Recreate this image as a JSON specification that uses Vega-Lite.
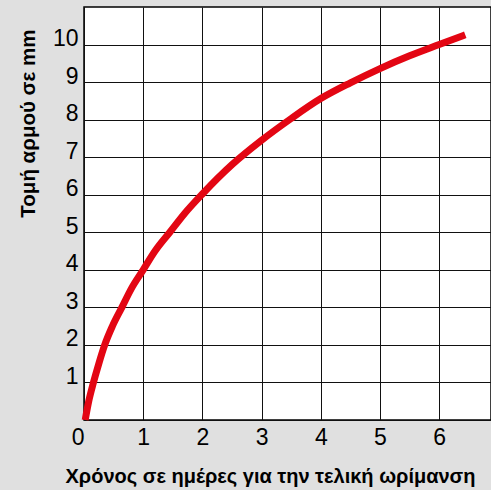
{
  "$schema": "https://vega.github.io/schema/vega-lite/v6.json",
  "autosize": {"type": "none"},
  "width": 407,
  "height": 413,
  "padding": {"left": 84, "top": 7, "right": 0, "bottom": 70},
  "background": "#e0e0e0",
  "config": {
    "view": {"fill": "white", "stroke": "black", "strokeWidth": 1.5},
    "axis": {
      "grid": true,
      "gridColor": "#111111",
      "gridWidth": 1,
      "gridOpacity": 1,
      "ticks": false,
      "domain": false,
      "labelFont": "Liberation Sans",
      "labelColor": "black",
      "titleFont": "Liberation Sans",
      "titleFontWeight": "bold",
      "titleColor": "black"
    }
  },
  "data": {
    "values": [
      {"t": 0.02, "mm": 0},
      {"t": 0.08, "mm": 0.5},
      {"t": 0.16, "mm": 1},
      {"t": 0.25, "mm": 1.5},
      {"t": 0.35, "mm": 2},
      {"t": 0.48, "mm": 2.5},
      {"t": 0.64, "mm": 3},
      {"t": 0.8, "mm": 3.5},
      {"t": 1.0, "mm": 4.0},
      {"t": 1.2, "mm": 4.5},
      {"t": 1.45, "mm": 5.0},
      {"t": 1.7, "mm": 5.5},
      {"t": 2.0, "mm": 6.02},
      {"t": 2.5, "mm": 6.8},
      {"t": 3.0, "mm": 7.45},
      {"t": 3.5, "mm": 8.03},
      {"t": 4.0, "mm": 8.56},
      {"t": 4.5, "mm": 8.98},
      {"t": 5.0, "mm": 9.36},
      {"t": 5.5, "mm": 9.7},
      {"t": 6.0, "mm": 10.0},
      {"t": 6.44, "mm": 10.26}
    ]
  },
  "mark": {"type": "line", "color": "#e30613", "strokeWidth": 7, "strokeCap": "butt", "interpolate": "monotone", "clip": false},
  "encoding": {
    "x": {
      "field": "t",
      "type": "quantitative",
      "scale": {"domain": [0, 6.875], "nice": false, "zero": false},
      "axis": {
        "title": "Χρόνος σε ημέρες για την τελική ωρίμανση",
        "values": [0, 1, 2, 3, 4, 5, 6],
        "format": "d",
        "labelFontSize": 23,
        "titleFontSize": 20,
        "labelBaseline": "alphabetic",
        "labelPadding": 24,
        "labelAlign": {"condition": {"test": "datum.value === 0", "value": "right"}, "value": "center"},
        "titleX": 186,
        "titleY": 62,
        "titleAlign": "center",
        "titleBaseline": "alphabetic"
      }
    },
    "y": {
      "field": "mm",
      "type": "quantitative",
      "scale": {"domain": [0, 11], "nice": false},
      "axis": {
        "title": "Τομή αρμού σε mm",
        "values": [0, 1, 2, 3, 4, 5, 6, 7, 8, 9, 10],
        "labelExpr": "datum.value === 0 ? '' : datum.label",
        "labelFontSize": 23,
        "titleFontSize": 20.5,
        "labelBaseline": "alphabetic",
        "labelOffset": 1,
        "labelPadding": 6,
        "titleAngle": -90,
        "titleX": -50,
        "titleY": 22,
        "titleAlign": "right",
        "titleBaseline": "alphabetic"
      }
    }
  }
}
